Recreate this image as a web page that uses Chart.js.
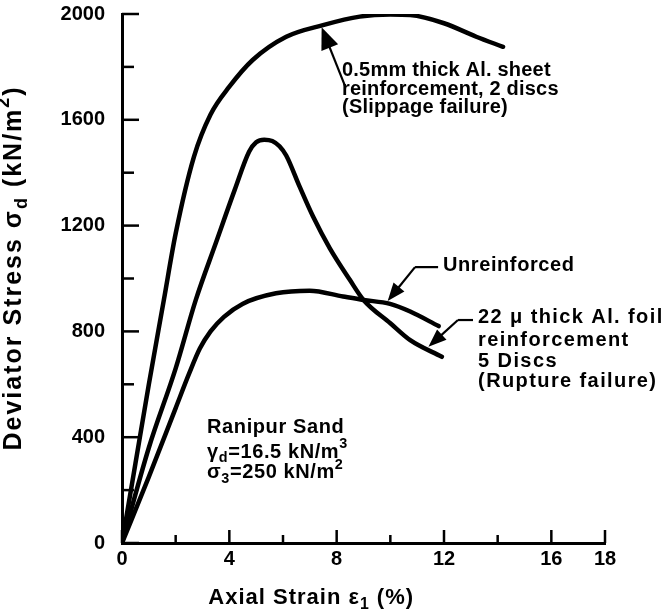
<!DOCTYPE html>
<html>
<head>
<meta charset="utf-8">
<script src="https://cdn.jsdelivr.net/npm/chart.js@4.4.1/dist/chart.umd.min.js"></script>
<style>
  body { margin: 0; background: #fff; }
</style>
</head>
<body>
<canvas id="grafico" width="671" height="614"></canvas>
<script>
// axial strain (%) and deviator stress (kN/m2)
const sheetStrain = [0, 0.5, 1.0, 1.56, 2.0, 2.68, 3.3, 4.0, 4.87, 6.12, 7.49, 8.86, 10.0, 10.74, 12.0, 13.2, 14.2];
const sheetStress = [0, 300, 600, 919, 1170, 1460, 1620, 1725, 1826, 1914, 1958, 1990, 1998, 1996, 1965, 1914, 1876];

const foilStrain = [0, 1.0, 2.0, 2.75, 3.5, 4.2, 4.74, 5.0, 5.3, 5.6, 5.87, 6.12, 6.62, 7.12, 7.74, 8.49, 9.0, 10.0, 10.74, 11.92];
const foilStress = [0, 360, 660, 919, 1135, 1335, 1480, 1515, 1525, 1520, 1500, 1465, 1347, 1234, 1115, 995, 919, 831, 767, 704];

const unStrain = [0, 1, 2, 2.5, 2.9, 3.3, 3.8, 4.49, 5.74, 6.99, 8.24, 9.0, 9.99, 10.74, 11.8];
const unStress = [0, 250, 510, 640, 735, 800, 855, 904, 944, 954, 932, 919, 904, 875, 820];

const xLabels = [0, 4, 8, 12, 16, 18];
const yLabels = [0, 400, 800, 1200, 1600, 2000];

const FONT = '"Liberation Sans", Arial, sans-serif';

function pts(xs, ys) {
  return xs.map((x, i) => ({ x: x, y: ys[i] }));
}

function serie(xs, ys) {
  return {
    data: pts(xs, ys),
    borderColor: "#000",
    borderWidth: 4.5,
    pointRadius: 0,
    showLine: true,
    fill: false,
    cubicInterpolationMode: "monotone",
    borderCapStyle: "round",
  };
}

// texto con subindices / superindices
function rich(ctx, parts, x, y, size, align, spacing) {
  ctx.letterSpacing = (spacing || 0) + "px";
  let total = 0;
  for (const [t, m] of parts) {
    ctx.font = "bold " + (m ? size * 0.72 : size) + "px " + FONT;
    total += ctx.measureText(t).width;
  }
  let cx = align === "center" ? x - total / 2 : x;
  ctx.textAlign = "left";
  ctx.textBaseline = "middle";
  for (const [t, m] of parts) {
    const s = m ? size * 0.72 : size;
    ctx.font = "bold " + s + "px " + FONT;
    let dy = 0;
    if (m === "sub") dy = size * 0.32;
    if (m === "sup") dy = -size * 0.38;
    ctx.fillText(t, cx, y + dy);
    cx += ctx.measureText(t).width;
  }
  ctx.letterSpacing = "0px";
}

function flecha(ctx, x1, y1, x2, y2, L, W) {
  const ang = Math.atan2(y2 - y1, x2 - x1);
  ctx.beginPath();
  ctx.moveTo(x1, y1);
  ctx.lineTo(x2 - Math.cos(ang) * L * 0.8, y2 - Math.sin(ang) * L * 0.8);
  ctx.stroke();
  ctx.beginPath();
  ctx.moveTo(x2, y2);
  ctx.lineTo(x2 - Math.cos(ang) * L - Math.sin(ang) * W, y2 - Math.sin(ang) * L + Math.cos(ang) * W);
  ctx.lineTo(x2 - Math.cos(ang) * L + Math.sin(ang) * W, y2 - Math.sin(ang) * L - Math.cos(ang) * W);
  ctx.closePath();
  ctx.fill();
}

const anotaciones = {
  id: "anotaciones",
  afterDraw(chart) {
    const ctx = chart.ctx;
    const X = chart.scales.x, Y = chart.scales.y;
    const px = (v) => X.getPixelForValue(v);
    const py = (v) => Y.getPixelForValue(v);
    ctx.save();
    ctx.fillStyle = "#000";
    ctx.strokeStyle = "#000";

    // ticks hacia adentro
    ctx.lineWidth = 2.5;
    ctx.lineCap = "butt";
    for (const t of X.ticks) {
      const x = px(t.value);
      const len = xLabels.includes(t.value) ? 13 : 8;
      ctx.beginPath();
      ctx.moveTo(x, Y.bottom);
      ctx.lineTo(x, Y.bottom - len);
      ctx.stroke();
    }
    for (const t of Y.ticks) {
      const y = py(t.value);
      const len = yLabels.includes(t.value) ? 17 : 12;
      ctx.beginPath();
      ctx.moveTo(X.left, y);
      ctx.lineTo(X.left + len, y);
      ctx.stroke();
    }

    // titulos de ejes
    rich(ctx, [["Axial Strain ε"], ["1", "sub"], [" (%)"]], px(7.05), 598, 22, "center", 1);
    ctx.save();
    ctx.translate(14, py(1040));
    ctx.rotate(-Math.PI / 2);
    rich(ctx, [["Deviator Stress σ"], ["d", "sub"], [" (kN/m"], ["2", "sup"], [")"]], 0, 0, 25, "center", 2);
    ctx.restore();

    // leyendas de curvas
    const fs = 20, sp = 0.6;
    rich(ctx, [["0.5mm thick Al. sheet"]], px(8.2), py(1788), fs, "left", 0.2);
    rich(ctx, [["reinforcement, 2 discs"]], px(8.2), py(1716), fs, "left", 0.2);
    rich(ctx, [["(Slippage failure)"]], px(8.2), py(1645), fs, "left", 0.2);

    rich(ctx, [["Unreinforced"]], px(11.96), py(1051), fs, "left", sp);

    rich(ctx, [["22 μ thick Al. foil"]], px(13.27), py(854), fs, "left", 1.4);
    rich(ctx, [["reinforcement"]], px(13.27), py(767), fs, "left", 1.4);
    rich(ctx, [["5 Discs"]], px(13.27), py(688), fs, "left", 1.4);
    rich(ctx, [["(Rupture failure)"]], px(13.27), py(609), fs, "left", 1.4);

    rich(ctx, [["Ranipur Sand"]], px(3.17), py(435), fs, "left", sp);
    rich(ctx, [["γ"], ["d", "sub"], ["=16.5 kN/m"], ["3", "sup"]], px(3.17), py(344), fs, "left", sp);
    rich(ctx, [["σ"], ["3", "sub"], ["=250 kN/m"], ["2", "sup"]], px(3.17), py(265), fs, "left", sp);

    // flechas
    ctx.lineWidth = 2.2;
    flecha(ctx, px(8.31), py(1728), px(7.44), py(1950), 22, 9);

    ctx.beginPath();
    ctx.moveTo(px(11.78), py(1043));
    ctx.lineTo(px(10.92), py(1043));
    ctx.stroke();
    flecha(ctx, px(10.92), py(1043), px(9.9), py(915), 18, 7);

    ctx.beginPath();
    ctx.moveTo(px(13.08), py(843));
    ctx.lineTo(px(12.52), py(843));
    ctx.stroke();
    flecha(ctx, px(12.52), py(843), px(11.42), py(742), 18, 7);

    ctx.restore();
  },
};

new Chart(document.getElementById("grafico"), {
  type: "scatter",
  data: {
    datasets: [
      serie(sheetStrain, sheetStress),
      serie(foilStrain, foilStress),
      serie(unStrain, unStress),
    ],
  },
  options: {
    responsive: false,
    animation: false,
    devicePixelRatio: 1,
    layout: { padding: { top: 14, right: 66, left: 0, bottom: 0 } },
    plugins: { legend: { display: false }, tooltip: { enabled: false } },
    scales: {
      x: {
        type: "linear",
        min: 0,
        max: 18,
        afterBuildTicks: (s) => {
          s.ticks = [0, 2, 4, 6, 8, 10, 12, 14, 16, 18].map((v) => ({ value: v }));
        },
        afterFit: (s) => {
          s.height = 71;
          s.paddingLeft = 0;
          s.paddingRight = 0;
        },
        grid: { display: false, drawTicks: false },
        border: { display: true, color: "#000", width: 3 },
        ticks: {
          autoSkip: false,
          maxRotation: 0,
          padding: 4,
          color: "#000",
          font: { family: FONT, size: 20, weight: "bold" },
          callback: (v) => (xLabels.includes(v) ? String(v) : ""),
        },
      },
      y: {
        type: "linear",
        min: 0,
        max: 2000,
        afterBuildTicks: (s) => {
          const t = [];
          for (let v = 0; v <= 2000; v += 200) t.push({ value: v });
          s.ticks = t;
        },
        afterFit: (s) => {
          s.width = 122;
          s.paddingTop = 0;
          s.paddingBottom = 0;
        },
        grid: { display: false, drawTicks: false },
        border: { display: true, color: "#000", width: 3 },
        ticks: {
          autoSkip: false,
          padding: 17,
          color: "#000",
          font: { family: FONT, size: 20, weight: "bold" },
          callback: (v) => (yLabels.includes(v) ? String(v) : ""),
        },
      },
    },
  },
  plugins: [anotaciones],
});
</script>
</body>
</html>
